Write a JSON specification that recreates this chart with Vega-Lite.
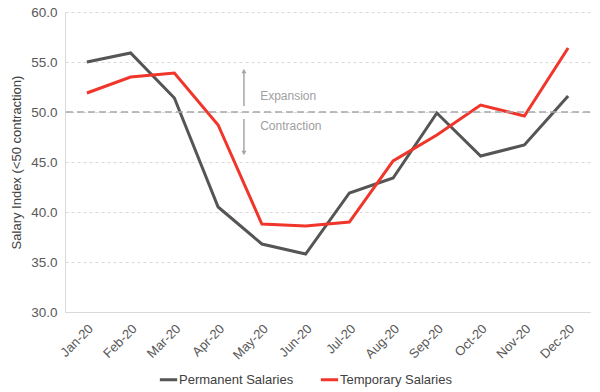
{
  "$schema": "https://vega.github.io/schema/vega-lite/v6.json",
  "width": 525,
  "height": 300,
  "autosize": {"type": "none"},
  "padding": {"left": 65, "top": 12, "right": 10, "bottom": 80},
  "config": {"font": "Liberation Sans", "view": {"stroke": null}},
  "datasets": {
    "salaries": [
      {"month": "Jan-20", "series": "Permanent Salaries", "value": 55.0},
      {"month": "Feb-20", "series": "Permanent Salaries", "value": 55.9},
      {"month": "Mar-20", "series": "Permanent Salaries", "value": 51.4},
      {"month": "Apr-20", "series": "Permanent Salaries", "value": 40.5},
      {"month": "May-20", "series": "Permanent Salaries", "value": 36.8},
      {"month": "Jun-20", "series": "Permanent Salaries", "value": 35.8},
      {"month": "Jul-20", "series": "Permanent Salaries", "value": 41.9},
      {"month": "Aug-20", "series": "Permanent Salaries", "value": 43.4},
      {"month": "Sep-20", "series": "Permanent Salaries", "value": 49.9},
      {"month": "Oct-20", "series": "Permanent Salaries", "value": 45.6},
      {"month": "Nov-20", "series": "Permanent Salaries", "value": 46.7},
      {"month": "Dec-20", "series": "Permanent Salaries", "value": 51.6},
      {"month": "Jan-20", "series": "Temporary Salaries", "value": 51.9},
      {"month": "Feb-20", "series": "Temporary Salaries", "value": 53.5},
      {"month": "Mar-20", "series": "Temporary Salaries", "value": 53.9},
      {"month": "Apr-20", "series": "Temporary Salaries", "value": 48.7},
      {"month": "May-20", "series": "Temporary Salaries", "value": 38.8},
      {"month": "Jun-20", "series": "Temporary Salaries", "value": 38.6},
      {"month": "Jul-20", "series": "Temporary Salaries", "value": 39.0},
      {"month": "Aug-20", "series": "Temporary Salaries", "value": 45.1},
      {"month": "Sep-20", "series": "Temporary Salaries", "value": 47.7},
      {"month": "Oct-20", "series": "Temporary Salaries", "value": 50.7},
      {"month": "Nov-20", "series": "Temporary Salaries", "value": 49.6},
      {"month": "Dec-20", "series": "Temporary Salaries", "value": 56.4}
    ],
    "arrows": [
      {"month": "Apr-20", "from": 50.6, "to": 53.9, "head": 54.1, "shape": "triangle-up"},
      {"month": "Apr-20", "from": 49.3, "to": 46.1, "head": 45.9, "shape": "triangle-down"}
    ],
    "labels": [
      {"month": "May-20", "y": 51.6, "text": "Expansion"},
      {"month": "May-20", "y": 48.6, "text": "Contraction"}
    ],
    "threshold": [{"y": 50}]
  },
  "encoding": {
    "x": {
      "field": "month",
      "type": "nominal",
      "sort": ["Jan-20","Feb-20","Mar-20","Apr-20","May-20","Jun-20","Jul-20","Aug-20","Sep-20","Oct-20","Nov-20","Dec-20"],
      "scale": {"type": "band", "paddingInner": 0, "paddingOuter": 0},
      "axis": {
        "title": null,
        "labelAngle": -45,
        "labelFontSize": 13,
        "labelColor": "#595959",
        "ticks": false,
        "domainColor": "#d9d9d9",
        "grid": false,
        "labelPadding": 10,
        "labelDx": -4
      }
    }
  },
  "layer": [
    {
      "data": {"name": "salaries"},
      "mark": {"type": "line", "strokeWidth": 3},
      "encoding": {
        "x": {"field": "month", "type": "nominal", "bandPosition": 0.5},
        "y": {
          "field": "value",
          "type": "quantitative",
          "scale": {"domain": [30, 60], "nice": false, "zero": false},
          "axis": {
            "title": "Salary Index (<50 contraction)",
            "titleFontSize": 13,
            "titleFontWeight": "normal",
            "titleColor": "#404040",
            "titlePadding": 7,
            "values": [30, 35, 40, 45, 50, 55, 60],
            "format": ".1f",
            "labelFontSize": 13.5,
            "labelColor": "#595959",
            "labelPadding": 8,
            "ticks": false,
            "domainColor": "#d9d9d9",
            "gridColor": "#d9d9d9",
            "gridDash": [3, 3]
          }
        },
        "color": {
          "field": "series",
          "type": "nominal",
          "scale": {"domain": ["Permanent Salaries", "Temporary Salaries"], "range": ["#555555", "#f0352b"]},
          "legend": {
            "title": null,
            "orient": "none",
            "legendX": 93,
            "legendY": 357,
            "direction": "horizontal",
            "symbolType": "stroke",
            "symbolStrokeWidth": 3,
            "symbolSize": 300,
            "symbolOffset": 0,
            "labelOffset": 0,
            "labelFontSize": 13,
            "labelColor": "#404040",
            "columnPadding": 20
          }
        }
      }
    },
    {
      "data": {"name": "threshold"},
      "mark": {"type": "rule", "color": "#a6a6a6", "strokeWidth": 1.5, "strokeDash": [7, 4]},
      "encoding": {"x": null, "y": {"field": "y", "type": "quantitative"}}
    },
    {
      "data": {"name": "arrows"},
      "mark": {"type": "rule", "color": "#a6a6a6", "strokeWidth": 1.5},
      "encoding": {
        "x": {"field": "month", "type": "nominal", "bandPosition": 1.09},
        "y": {"field": "from", "type": "quantitative"},
        "y2": {"field": "to"}
      }
    },
    {
      "data": {"name": "arrows"},
      "mark": {"type": "point", "filled": true, "color": "#a6a6a6", "opacity": 1, "size": 25},
      "encoding": {
        "x": {"field": "month", "type": "nominal", "bandPosition": 1.09},
        "y": {"field": "head", "type": "quantitative"},
        "shape": {"field": "shape", "type": "nominal", "scale": null, "legend": null}
      }
    },
    {
      "data": {"name": "labels"},
      "mark": {"type": "text", "align": "left", "baseline": "middle", "fontSize": 12, "color": "#a0a0a0"},
      "encoding": {
        "x": {"field": "month", "type": "nominal", "bandPosition": 0.46},
        "y": {"field": "y", "type": "quantitative"},
        "text": {"field": "text"}
      }
    }
  ]
}
